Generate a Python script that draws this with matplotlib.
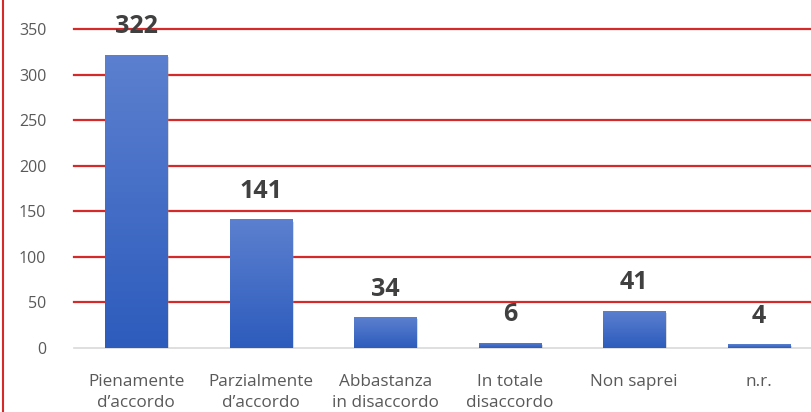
import matplotlib
matplotlib.use("Agg")
import matplotlib.pyplot as plt
import numpy as np
from matplotlib.lines import Line2D
import matplotlib.patheffects as pe
from matplotlib.colors import LinearSegmentedColormap

categories = ["Pienamente\nd\u2019accordo", "Parzialmente\nd\u2019accordo", "Abbastanza\nin disaccordo",
              "In totale\ndisaccordo", "Non saprei", "n.r."]
values = [322, 141, 34, 6, 41, 4]
yticks = [0, 50, 100, 150, 200, 250, 300, 350]

plt.rcParams['font.family'] = ['Open Sans', 'DejaVu Sans']

W, H = 811, 412
fig = plt.figure(figsize=(W/100, H/100), dpi=100)
left_px, right_px, top_px, bot_px = 74, 821, 29, 348
ax = fig.add_axes([left_px/W, 1 - bot_px/H, (right_px-left_px)/W, (bot_px-top_px)/H])

x = np.arange(len(categories))
bars = ax.bar(x, values, width=0.5, color='#3b68c8', zorder=3,
              path_effects=[pe.SimplePatchShadow(offset=(1.5, -1.5), shadow_rgbFace='#999999', alpha=0.35), pe.Normal()])

grad = np.linspace(0, 1, 256).reshape(-1, 1)
cmap = LinearSegmentedColormap.from_list('g', ['#2d5cbd', '#5c80cf'])
for b in bars:
    bx, by, bw, bh = b.get_x(), b.get_y(), b.get_width(), b.get_height()
    im = ax.imshow(grad, extent=(bx, bx+bw, by, by+bh), origin='lower', aspect='auto', cmap=cmap, zorder=4)
    im.set_clip_path(b)

ax.set_xlim(-0.5, len(categories)-0.5)
ax.set_ylim(0, 350)
ax.set_yticks(yticks)
ax.set_xticks(x)
ax.set_xticklabels(categories, fontsize=12.3, color='#595959', linespacing=1.35, va='top')
ax.tick_params(axis='y', labelsize=11.5, labelcolor='#595959', length=0, pad=20)
ax.tick_params(axis='x', length=0, pad=19)

for yv in yticks[1:]:
    ax.axhline(yv, color='#d42a2a', lw=1.6, zorder=1, clip_on=False)
ax.axhline(0, color='#d9d9d9', lw=1.2, zorder=2, clip_on=False)

for s in ax.spines.values():
    s.set_visible(False)

for xi, v in zip(x, values):
    ax.text(xi, v + 17, str(v), ha='center', va='bottom', fontsize=18, fontweight='bold',
            color='#404040', zorder=6)

fig.add_artist(Line2D([2.5/W, 2.5/W], [0, 1], color='#d42a2a', lw=1.5, transform=fig.transFigure))

fig.savefig('out.png', dpi=100)
